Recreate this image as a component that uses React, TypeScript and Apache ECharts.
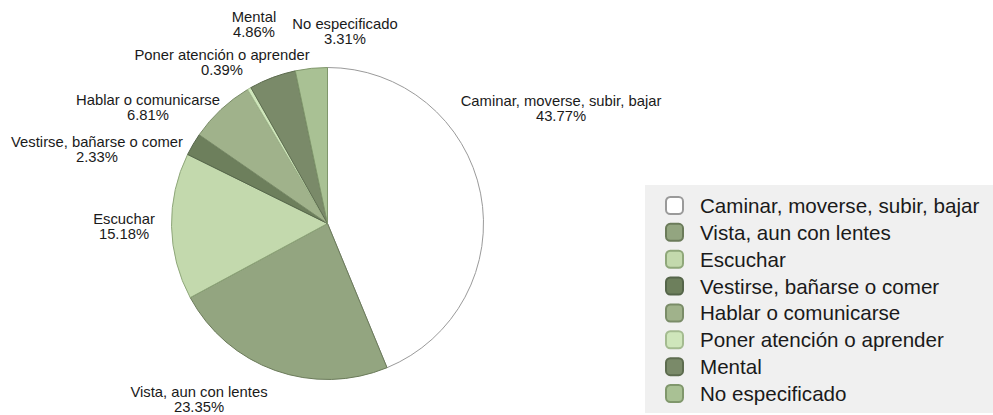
import React, { useEffect, useRef } from "react";
import * as echarts from "echarts";

const categories = [
  "Caminar, moverse, subir, bajar",
  "Vista, aun con lentes",
  "Escuchar",
  "Vestirse, bañarse o comer",
  "Hablar o comunicarse",
  "Poner atención o aprender",
  "Mental",
  "No especificado",
];
const values = [43.77, 23.35, 15.18, 2.33, 6.81, 0.39, 4.86, 3.31];

const sliceColors = ["#ffffff", "#93a580", "#c3d9ad", "#6d7f5c", "#a0b28b", "#cfe6bb", "#7a8a69", "#a9c194"];
const sliceBorders = ["#9a9a9a", "#6b7b5a", "#8fa77a", "#55654a", "#7a8c68", "#a4bb90", "#5d6c4f", "#80976c"];
// label anchor points (centre of each label block), layout only
const labelAnchors: [number, number][] = [
  [561, 108],
  [199, 399],
  [124, 226],
  [97, 149],
  [148, 107],
  [222, 62],
  [254, 24],
  [345, 31],
];

export default function App() {
  const ref = useRef<HTMLDivElement>(null);
  useEffect(() => {
    if (!ref.current) return;
    const chart = echarts.init(ref.current, null, { renderer: "svg" });
    const font = "'Liberation Sans', Arial, sans-serif";
    chart.setOption({
      animation: false,
      graphic: [
        {
          type: "rect",
          z: 0,
          shape: { x: 645, y: 185, width: 348, height: 228 },
          style: { fill: "#f0f0f0" },
        },
      ],
      legend: {
        orient: "vertical",
        left: 665,
        top: 195,
        height: 218,
        padding: 0,
        itemWidth: 17,
        itemHeight: 17,
        itemGap: 5.86,
        selectedMode: false,
        z: 5,
        textStyle: {
          fontFamily: font,
          fontSize: 20.6,
          lineHeight: 20,
          color: "#1a1a1a",
          padding: [0, 0, 0, 12],
        },
        data: categories,
      },
      series: [
        {
          type: "pie",
          center: [327.5, 223.5],
          radius: 156,
          startAngle: 90,
          clockwise: true,
          avoidLabelOverlap: false,
          silent: true,
          emphasis: { disabled: true },
          label: {
            show: true,
            position: "outside",
            fontFamily: font,
            fontSize: 14.8,
            lineHeight: 15,
            color: "#1a1a1a",
            align: "center",
            formatter: (p: any) => `${p.name}\n${Number(p.value).toFixed(2)}%`,
          },
          labelLine: { show: false },
          labelLayout: (p: any) => {
            const a = labelAnchors[p.dataIndex];
            return { x: a[0], y: a[1], align: "center", verticalAlign: "middle" };
          },
          data: categories.map((name, i) => ({
            name,
            value: values[i],
            itemStyle: { color: sliceColors[i], borderColor: sliceBorders[i], borderWidth: 1 },
          })),
        },
      ],
    });
    return () => chart.dispose();
  }, []);
  return (
    <div
      ref={ref}
      style={{ position: "fixed", left: 0, top: 0, width: 993, height: 415, background: "#fff" }}
    />
  );
}
